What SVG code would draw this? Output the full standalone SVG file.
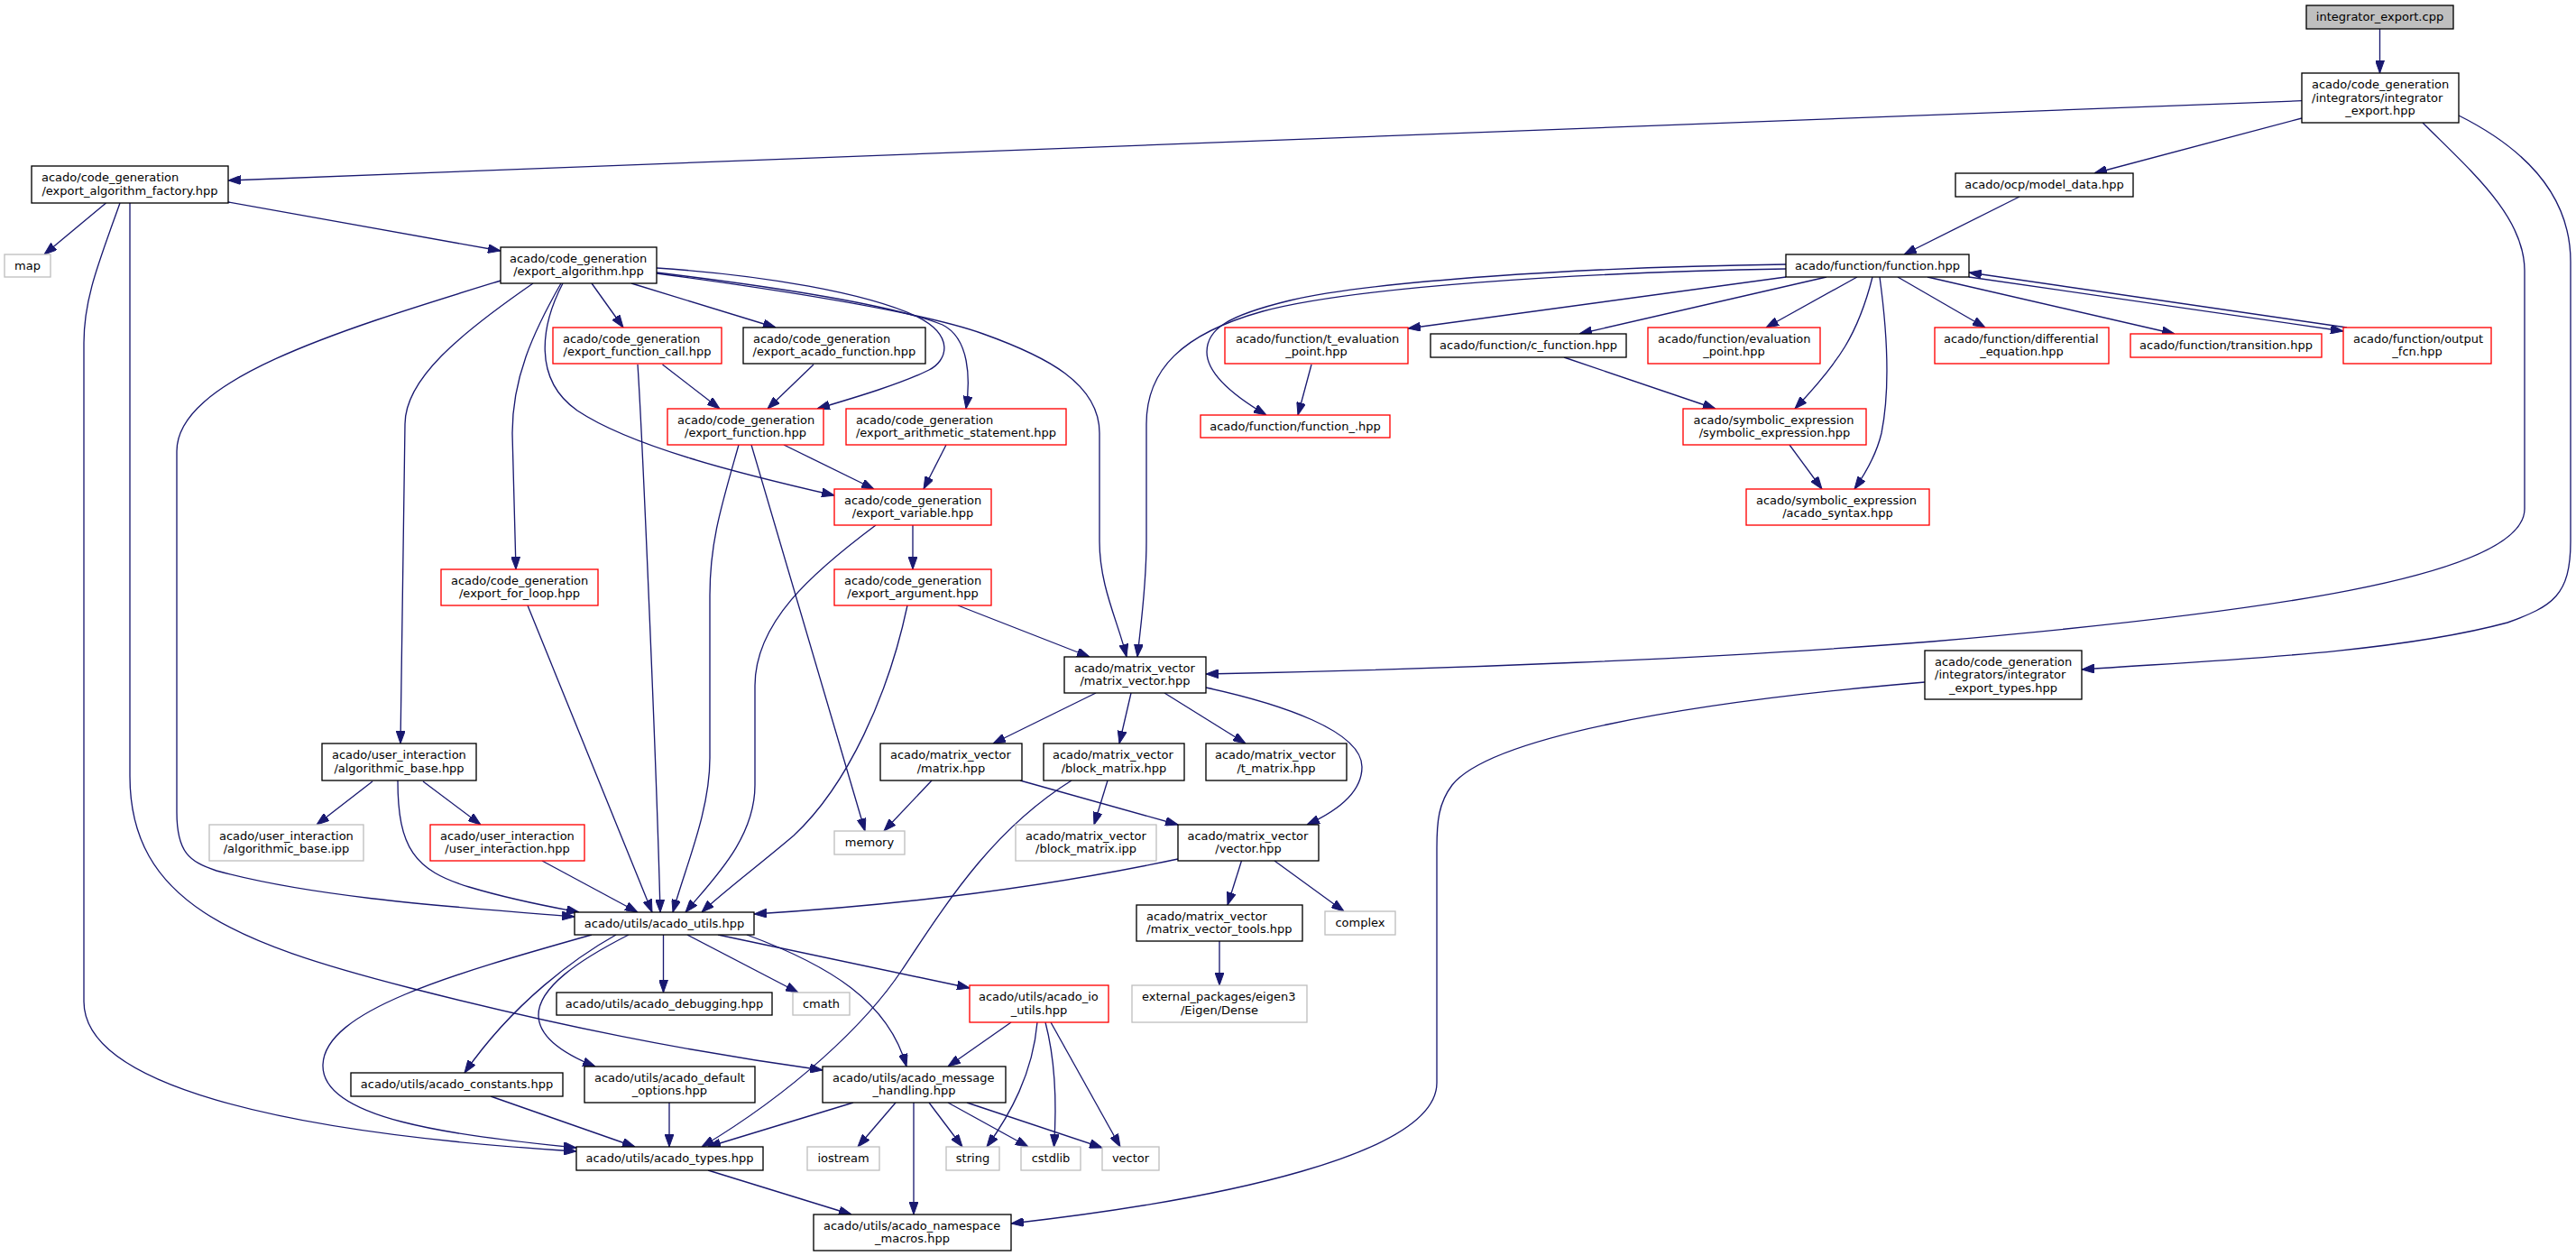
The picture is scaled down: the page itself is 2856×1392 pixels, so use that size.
<svg xmlns="http://www.w3.org/2000/svg" width="2856" height="1392" viewBox="0 0 2856 1392">
<defs>
<style>
rect{fill:#fff;stroke:#000;stroke-width:1.33}
.r rect{stroke:#ff0000}
.g rect{stroke:#bfbfbf}
.root rect{fill:#bfbfbf}
text{font-family:"DejaVu Sans","Liberation Sans",sans-serif;font-size:13px;fill:#000}
.m{text-anchor:middle}
.e path{fill:none;stroke:#191970;stroke-width:1.33;marker-end:url(#ah)}
</style>
<marker id="ah" markerUnits="userSpaceOnUse" markerWidth="14" markerHeight="10" viewBox="0 0 14 10" refX="14" refY="5" orient="auto"><path d="M0,0 L14,5 L0,10 z" fill="#191970" stroke="#191970" stroke-width="1"/></marker>
</defs>
<rect x="0" y="0" width="2856" height="1392" style="fill:#fff;stroke:none"/>
<g class="e" id="edges">
<path d="M2638.5,32 L2638.5,81"/>
<path d="M2552,111.7 L253,200"/>
<path d="M2552,131 L2322,192"/>
<path d="M2686,136 C2740,190 2799,240 2799,300 L2799,564 C2799,640 2500,680 2142,711 C1900,730 1600,742 1337,747"/>
<path d="M2726,128 C2790,160 2850,210 2850,290 L2850,600 C2850,660 2830,672 2780,690 C2650,725 2450,732 2308,742"/>
<path d="M117.5,225 L49,282"/>
<path d="M253,224 L555,278"/>
<path d="M133,225 C110,290 93,330 93,380 L93,1110 C93,1200 300,1255 639,1276"/>
<path d="M144,225 L144,860 C144,1000 260,1045 455,1095 C620,1137 760,1165 912,1186"/>
<path d="M555,311 C380,365 196,420 196,500 L196,900 C196,945 210,955 240,965 C350,995 500,1005 637,1016"/>
<path d="M591,314 C510,370 449,420 449,470 L444,824"/>
<path d="M622,314 C590,370 568,420 568,480 L572,631"/>
<path d="M624,314 C600,360 590,420 640,455 C700,495 820,525 925,549"/>
<path d="M656,314 L691,363"/>
<path d="M700,314 L860,363"/>
<path d="M728,297 C850,305 960,325 1015,350 C1060,372 1050,400 1030,410 C1000,425 950,440 906,453"/>
<path d="M728,302 C860,318 990,338 1045,360 C1075,375 1076,420 1071,453"/>
<path d="M728,303 C870,322 1020,345 1090,370 C1160,395 1219,425 1219,480 L1219,600 C1219,650 1240,690 1249,728"/>
<path d="M734.5,404 L798,453"/>
<path d="M707,404 C712,480 728,850 732,1011"/>
<path d="M902,404 L851,453"/>
<path d="M869,493 L969,542"/>
<path d="M833,493 L959,921"/>
<path d="M819,493 C800,560 787,600 787,660 L787,840 C787,900 760,960 746,1011"/>
<path d="M1049,493 L1024,542"/>
<path d="M1012,582 L1012,631"/>
<path d="M971,582 C900,635 837,690 837,760 L837,870 C837,930 790,975 760,1011"/>
<path d="M1062,671 L1208,728"/>
<path d="M1006,671 C985,770 940,870 880,926 C840,960 800,990 778,1011"/>
<path d="M1215,768 L1101,824"/>
<path d="M1254,768 L1241,824"/>
<path d="M1291,768 L1381,824"/>
<path d="M1337,762 C1420,780 1510,810 1510,850 C1510,880 1480,900 1449,914"/>
<path d="M1033,865 L980,921"/>
<path d="M1131,865 L1306,914"/>
<path d="M1228,865 L1213,914"/>
<path d="M1188,865 C1100,920 1050,1000 1000,1075 C960,1135 880,1210 778,1271"/>
<path d="M1306,952 C1150,985 1000,1003 836,1013"/>
<path d="M1376.5,954 L1361,1003"/>
<path d="M1413,954 L1490,1010"/>
<path d="M1352,1043 L1352,1092"/>
<path d="M1980,298 C1750,302 1500,318 1400,345 C1310,370 1271,410 1271,470 L1271,600 C1271,650 1265,690 1261,728"/>
<path d="M1980,293 C1750,296 1520,312 1430,333 C1360,350 1338,365 1338,390 C1338,415 1370,440 1404,460"/>
<path d="M1980,307 L1561,364"/>
<path d="M2025,307 L1751,370"/>
<path d="M2059,307 L1958,363"/>
<path d="M2076,307 C2060,370 2040,400 1990,453"/>
<path d="M2084,307 C2094,380 2094,440 2086,480 C2080,505 2068,525 2056,542"/>
<path d="M2104,307 L2201,363"/>
<path d="M2137,307 L2411,370"/>
<path d="M2183,307 L2598,367"/>
<path d="M2602,363 L2183,302"/>
<path d="M1454,404 L1439,460"/>
<path d="M1734,396 L1902,453"/>
<path d="M1984,493 L2020,542"/>
<path d="M2239,218 L2111,282"/>
<path d="M2134,756 C1850,780 1650,820 1610,870 C1595,890 1593,910 1593,940 L1593,1200 C1593,1280 1350,1330 1121,1356"/>
<path d="M735.5,1036 L735.5,1100"/>
<path d="M762,1036 L885,1100"/>
<path d="M796,1036 L1075,1095"/>
<path d="M828,1036 C920,1070 985,1110 1005,1182"/>
<path d="M683,1036 C640,1060 570,1110 515,1189"/>
<path d="M697,1036 C640,1065 597,1095 597,1125 C597,1150 625,1168 660,1182"/>
<path d="M656,1036 C500,1080 360,1120 358,1180 C356,1240 500,1258 639,1272"/>
<path d="M413,866 L351,914"/>
<path d="M469,866 L533,914"/>
<path d="M441,865 C441,940 460,965 520,983 C570,998 610,1005 642,1011"/>
<path d="M601,954 L707,1011"/>
<path d="M585,671 L723,1011"/>
<path d="M544,1215 L704,1271"/>
<path d="M742,1222 L742,1271"/>
<path d="M946,1222 L785,1271"/>
<path d="M993,1222 L951,1271"/>
<path d="M1013,1222 L1013,1346"/>
<path d="M1030,1222 L1067,1271"/>
<path d="M1051,1222 L1140,1271"/>
<path d="M1072,1222 L1222,1272"/>
<path d="M1121,1133 L1051,1182"/>
<path d="M1150,1133 C1145,1190 1120,1235 1094,1271"/>
<path d="M1159,1133 C1170,1175 1172,1220 1168.5,1271"/>
<path d="M1165,1133 L1242,1271"/>
<path d="M785,1297 L944,1346"/>
</g>
<g id="n_root" class="root"><rect x="2557" y="6" width="163" height="26"/><text class="m" x="2638.5" y="23">integrator_export.cpp</text></g>
<g id="n_ie"><rect x="2552" y="81" width="174" height="55"/><text x="2563" y="98">acado/code_generation</text><text x="2563" y="112.5">/integrators/integrator</text><text class="m" x="2639" y="127">_export.hpp</text></g>
<g id="n_factory"><rect x="35" y="184" width="218" height="41"/><text x="46" y="201.25">acado/code_generation</text><text class="m" x="144" y="215.75">/export_algorithm_factory.hpp</text></g>
<g id="n_map" class="g"><rect x="5" y="282" width="51" height="25"/><text class="m" x="30.5" y="298.5">map</text></g>
<g id="n_model_data"><rect x="2168" y="192" width="197" height="26"/><text class="m" x="2266.5" y="209">acado/ocp/model_data.hpp</text></g>
<g id="n_function"><rect x="1980" y="282" width="203" height="25"/><text class="m" x="2081.5" y="298.5">acado/function/function.hpp</text></g>
<g id="n_export_algorithm"><rect x="555" y="274" width="173" height="40"/><text x="565" y="290.75">acado/code_generation</text><text class="m" x="641.5" y="305.25">/export_algorithm.hpp</text></g>
<g id="n_export_function_call" class="r"><rect x="613" y="363" width="187" height="40"/><text x="624" y="379.75">acado/code_generation</text><text class="m" x="706.5" y="394.25">/export_function_call.hpp</text></g>
<g id="n_export_acado_function"><rect x="824" y="363" width="202" height="40"/><text x="835" y="379.75">acado/code_generation</text><text class="m" x="925" y="394.25">/export_acado_function.hpp</text></g>
<g id="n_t_evaluation_point" class="r"><rect x="1358" y="363" width="203" height="40"/><text x="1370" y="379.75">acado/function/t_evaluation</text><text class="m" x="1459.5" y="394.25">_point.hpp</text></g>
<g id="n_c_function"><rect x="1586" y="370" width="217" height="26"/><text class="m" x="1694.5" y="387">acado/function/c_function.hpp</text></g>
<g id="n_evaluation_point" class="r"><rect x="1827" y="363" width="191" height="40"/><text x="1838" y="379.75">acado/function/evaluation</text><text class="m" x="1922.5" y="394.25">_point.hpp</text></g>
<g id="n_differential_equation" class="r"><rect x="2145" y="363" width="193" height="40"/><text x="2155" y="379.75">acado/function/differential</text><text class="m" x="2241.5" y="394.25">_equation.hpp</text></g>
<g id="n_transition" class="r"><rect x="2362" y="370" width="212" height="26"/><text class="m" x="2468" y="387">acado/function/transition.hpp</text></g>
<g id="n_output_fcn" class="r"><rect x="2598" y="363" width="164" height="40"/><text x="2609" y="379.75">acado/function/output</text><text class="m" x="2680" y="394.25">_fcn.hpp</text></g>
<g id="n_export_function" class="r"><rect x="740" y="453" width="173" height="40"/><text x="751" y="469.75">acado/code_generation</text><text class="m" x="826.5" y="484.25">/export_function.hpp</text></g>
<g id="n_export_arithmetic_statement" class="r"><rect x="938" y="453" width="244" height="40"/><text x="949" y="469.75">acado/code_generation</text><text class="m" x="1060" y="484.25">/export_arithmetic_statement.hpp</text></g>
<g id="n_function_" class="r"><rect x="1331" y="460" width="210" height="25"/><text class="m" x="1436" y="476.5">acado/function/function_.hpp</text></g>
<g id="n_symbolic_expression" class="r"><rect x="1866" y="453" width="203" height="40"/><text x="1877.5" y="469.75">acado/symbolic_expression</text><text class="m" x="1967.5" y="484.25">/symbolic_expression.hpp</text></g>
<g id="n_export_variable" class="r"><rect x="925" y="542" width="174" height="40"/><text x="936" y="558.75">acado/code_generation</text><text class="m" x="1012" y="573.25">/export_variable.hpp</text></g>
<g id="n_acado_syntax" class="r"><rect x="1936" y="542" width="203" height="40"/><text x="1947" y="558.75">acado/symbolic_expression</text><text class="m" x="2037.5" y="573.25">/acado_syntax.hpp</text></g>
<g id="n_export_for_loop" class="r"><rect x="489" y="631" width="174" height="40"/><text x="500" y="647.75">acado/code_generation</text><text class="m" x="576" y="662.25">/export_for_loop.hpp</text></g>
<g id="n_export_argument" class="r"><rect x="925" y="631" width="174" height="40"/><text x="936" y="647.75">acado/code_generation</text><text class="m" x="1012" y="662.25">/export_argument.hpp</text></g>
<g id="n_matrix_vector"><rect x="1180" y="728" width="157" height="40"/><text x="1191" y="744.75">acado/matrix_vector</text><text class="m" x="1258.5" y="759.25">/matrix_vector.hpp</text></g>
<g id="n_integrator_export_types"><rect x="2134" y="721" width="174" height="54"/><text x="2145" y="737.5">acado/code_generation</text><text x="2145" y="752">/integrators/integrator</text><text class="m" x="2221" y="766.5">_export_types.hpp</text></g>
<g id="n_algorithmic_base_hpp"><rect x="357" y="824" width="171" height="41"/><text x="368" y="841.25">acado/user_interaction</text><text class="m" x="442.5" y="855.75">/algorithmic_base.hpp</text></g>
<g id="n_matrix"><rect x="976" y="824" width="157" height="41"/><text x="987" y="841.25">acado/matrix_vector</text><text class="m" x="1054.5" y="855.75">/matrix.hpp</text></g>
<g id="n_block_matrix"><rect x="1157" y="824" width="156" height="41"/><text x="1167" y="841.25">acado/matrix_vector</text><text class="m" x="1235" y="855.75">/block_matrix.hpp</text></g>
<g id="n_t_matrix"><rect x="1337" y="824" width="156" height="41"/><text x="1347" y="841.25">acado/matrix_vector</text><text class="m" x="1415" y="855.75">/t_matrix.hpp</text></g>
<g id="n_algorithmic_base_ipp" class="g"><rect x="232" y="914" width="171" height="40"/><text x="243" y="930.75">acado/user_interaction</text><text class="m" x="317.5" y="945.25">/algorithmic_base.ipp</text></g>
<g id="n_user_interaction" class="r"><rect x="477" y="914" width="171" height="40"/><text x="488" y="930.75">acado/user_interaction</text><text class="m" x="562.5" y="945.25">/user_interaction.hpp</text></g>
<g id="n_memory" class="g"><rect x="925" y="921" width="78" height="26"/><text class="m" x="964" y="938">memory</text></g>
<g id="n_block_matrix_ipp" class="g"><rect x="1126" y="914" width="156" height="40"/><text x="1137" y="930.75">acado/matrix_vector</text><text class="m" x="1204" y="945.25">/block_matrix.ipp</text></g>
<g id="n_vector_hpp"><rect x="1306" y="914" width="156" height="40"/><text x="1316.5" y="930.75">acado/matrix_vector</text><text class="m" x="1384" y="945.25">/vector.hpp</text></g>
<g id="n_acado_utils"><rect x="637" y="1011" width="199" height="25"/><text class="m" x="736.5" y="1027.5">acado/utils/acado_utils.hpp</text></g>
<g id="n_matrix_vector_tools"><rect x="1260" y="1003" width="184" height="40"/><text x="1271" y="1019.75">acado/matrix_vector</text><text class="m" x="1352" y="1034.25">/matrix_vector_tools.hpp</text></g>
<g id="n_complex" class="g"><rect x="1469" y="1010" width="78" height="26"/><text class="m" x="1508" y="1027">complex</text></g>
<g id="n_acado_debugging"><rect x="617" y="1100" width="239" height="25"/><text class="m" x="736.5" y="1116.5">acado/utils/acado_debugging.hpp</text></g>
<g id="n_cmath" class="g"><rect x="879" y="1100" width="63" height="25"/><text class="m" x="910.5" y="1116.5">cmath</text></g>
<g id="n_acado_io_utils" class="r"><rect x="1075" y="1092" width="154" height="41"/><text x="1085" y="1109.25">acado/utils/acado_io</text><text class="m" x="1152" y="1123.75">_utils.hpp</text></g>
<g id="n_eigen_dense" class="g"><rect x="1255" y="1092" width="194" height="41"/><text x="1266" y="1109.25">external_packages/eigen3</text><text class="m" x="1352" y="1123.75">/Eigen/Dense</text></g>
<g id="n_acado_constants"><rect x="389" y="1189" width="235" height="26"/><text class="m" x="506.5" y="1206">acado/utils/acado_constants.hpp</text></g>
<g id="n_acado_default_options"><rect x="648" y="1182" width="189" height="40"/><text x="659" y="1198.75">acado/utils/acado_default</text><text class="m" x="742.5" y="1213.25">_options.hpp</text></g>
<g id="n_acado_message_handling"><rect x="912" y="1182" width="203" height="40"/><text x="923" y="1198.75">acado/utils/acado_message</text><text class="m" x="1013.5" y="1213.25">_handling.hpp</text></g>
<g id="n_acado_types"><rect x="639" y="1271" width="207" height="26"/><text class="m" x="742.5" y="1288">acado/utils/acado_types.hpp</text></g>
<g id="n_iostream" class="g"><rect x="895" y="1271" width="80" height="26"/><text class="m" x="935" y="1288">iostream</text></g>
<g id="n_string" class="g"><rect x="1049" y="1271" width="59" height="26"/><text class="m" x="1078.5" y="1288">string</text></g>
<g id="n_cstdlib" class="g"><rect x="1132" y="1271" width="66" height="26"/><text class="m" x="1165" y="1288">cstdlib</text></g>
<g id="n_vector" class="g"><rect x="1222" y="1271" width="63" height="26"/><text class="m" x="1253.5" y="1288">vector</text></g>
<g id="n_acado_namespace_macros"><rect x="902" y="1346" width="219" height="40"/><text x="913" y="1362.75">acado/utils/acado_namespace</text><text class="m" x="1011.5" y="1377.25">_macros.hpp</text></g>
</svg>
